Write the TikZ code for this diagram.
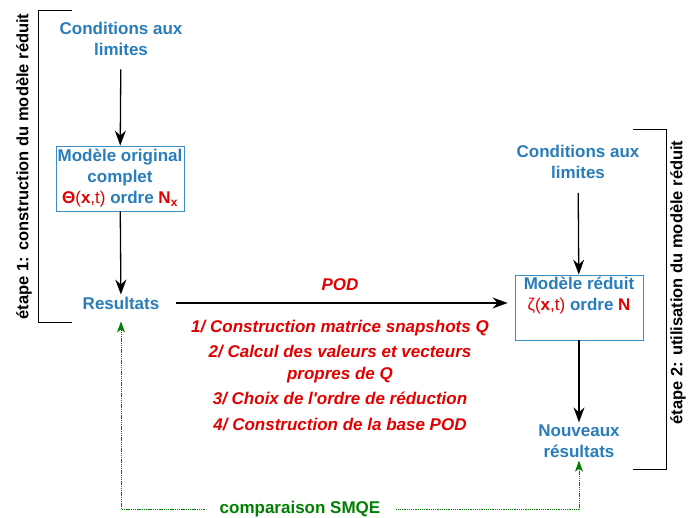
\documentclass[tikz,border=0pt]{standalone}
\usepackage{fontspec}
\setmainfont{Liberation Sans}
\usetikzlibrary{arrows.meta,positioning}
\definecolor{txtblue}{RGB}{41,125,185}
\definecolor{boxblue}{RGB}{60,140,200}
\definecolor{podred}{RGB}{225,0,0}
\definecolor{cmpgreen}{RGB}{0,128,0}
\tikzset{
  lbl/.style={text=txtblue,font=\fontsize{17}{21}\selectfont\bfseries,align=center,inner sep=2pt},
  modbox/.style={lbl,draw=boxblue,line width=0.9pt,minimum width=128pt,minimum height=65pt,inner sep=1pt},
  podtxt/.style={text=podred,font=\fontsize{17}{22}\selectfont\bfseries\itshape,align=center,inner sep=1pt},
  etape/.style={font=\fontsize{16.5}{20}\selectfont\bfseries,rotate=90,inner sep=0pt},
  flow/.style={-{Stealth[length=15pt,width=11pt,inset=5pt]},line width=1.3pt},
  cmpline/.style={cmpgreen,dash pattern=on 1.3pt off 0.9pt,line width=1pt,-{Stealth[length=11pt,width=8pt,inset=3pt]}},
  bracket/.style={line width=0.8pt}
}
\begin{document}
\begin{tikzpicture}[x=1pt,y=-1pt]
\useasboundingbox (0,0) rectangle (688,518);
% etape 1
\node[etape] (et1) at (24,166.5) {étape 1: construction du modèle réduit};
\draw[bracket] (72,10) -- (38,10) -- (38,322) -- (72,322);
\node[lbl] (cl1) at (121,38.5) {Conditions aux\\limites};
\node[modbox] (orig) at (120,178.5) {Modèle original\\complet\\{\color{podred}Θ\mdseries(\bfseries x\mdseries,t)} ordre {\color{podred}N\textsubscript{x}}};
\node[lbl] (res) at (121,303) {Resultats};
\draw[flow,shorten <=12pt] (cl1) -- (orig);
\draw[flow] (orig) -- (res);
% POD
\node[podtxt] (pod) at (340,285) {POD};
\node[podtxt] (s1) at (340,328) {1/ Construction matrice snapshots Q};
\node[podtxt] (s2) at (340,364) {2/ Calcul des valeurs et vecteurs\\propres de Q};
\node[podtxt] (s3) at (340,398) {3/ Choix de l\textquotesingle ordre de réduction};
\node[podtxt] (s4) at (340,425) {4/ Construction de la base POD};
% etape 2
\node[etape] (et2) at (678,282.5) {étape 2: utilisation du modèle réduit};
\draw[bracket] (633,129) -- (666,129) -- (666,469) -- (633,469);
\node[lbl] (cl2) at (578,162) {Conditions aux\\limites};
\node[modbox] (red) at (579,307.5) {Modèle réduit\\{\color{podred}\mdseries ζ(\bfseries x\mdseries,t)} ordre {\color{podred}N}\\\strut};
\node[lbl] (nres) at (579,441) {Nouveaux\\résultats};
\draw[flow,shorten <=12pt] (cl2) -- (red);
\draw[flow] (red) -- (nres);
\draw[flow,shorten <=15pt,shorten >=7pt] (res.east) -- (res.east -| red.west);
% comparaison
\node[text=cmpgreen,font=\fontsize{17}{20}\selectfont\bfseries,inner xsep=15pt] (cmp) at (300,509) {comparaison SMQE};
\draw[cmpline] (cmp.west) -| ([yshift=-10pt]res.south);
\draw[cmpline] (cmp.east) -| ([yshift=-1pt]nres.south);
\end{tikzpicture}
\end{document}
